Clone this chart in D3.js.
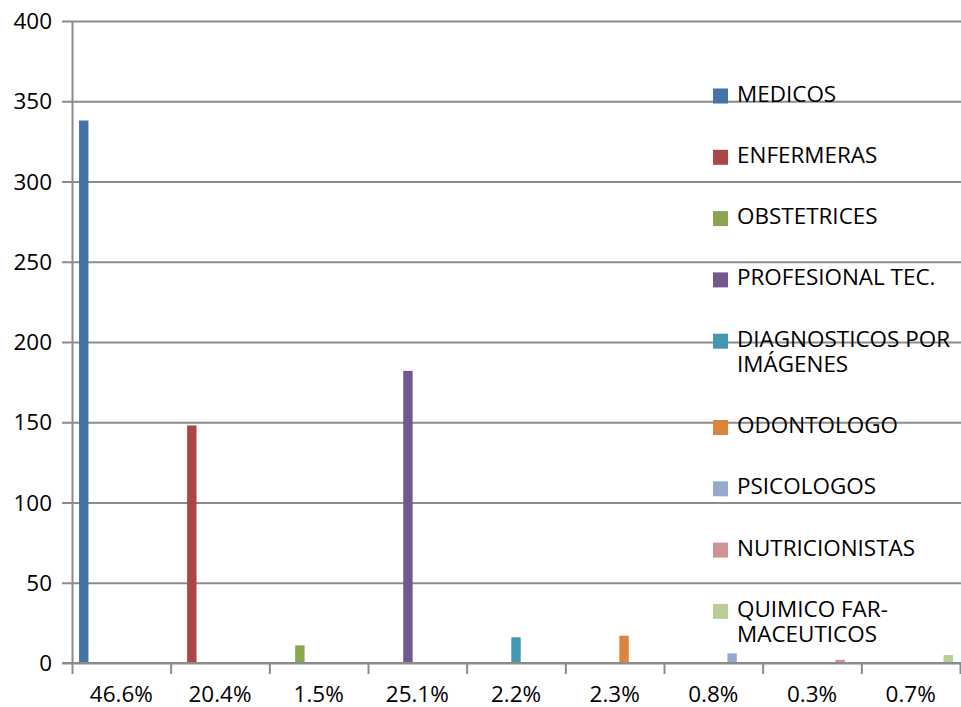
<!DOCTYPE html>
<html><head><meta charset="utf-8">
<script src="https://cdn.jsdelivr.net/npm/d3@7"></script>
<style>body{margin:0;background:#fff}svg{display:block}text{font-family:"Open Sans",sans-serif;fill:#000}</style>
</head><body><svg id="c" width="961" height="707"></svg>
<script>
const categories = ["46.6%","20.4%","1.5%","25.1%","2.2%","2.3%","0.8%","0.3%","0.7%"];
const seriesNames = ["MEDICOS","ENFERMERAS","OBSTETRICES","PROFESIONAL TEC.","DIAGNOSTICOS POR IMÁGENES","ODONTOLOGO","PSICOLOGOS","NUTRICIONISTAS","QUIMICO FARMACEUTICOS"];
const legendLines = [["MEDICOS"],["ENFERMERAS"],["OBSTETRICES"],["PROFESIONAL TEC."],["DIAGNOSTICOS POR","IMÁGENES"],["ODONTOLOGO"],["PSICOLOGOS"],["NUTRICIONISTAS"],["QUIMICO FAR-","MACEUTICOS"]];
const seriesValues = [338,148,11,182,16,17,6,2,5];
const seriesColors = ["#4572A7","#AA4643","#89A54E","#71588F","#4198AF","#DB843D","#93A9CF","#D19392","#B9CD96"];
const yTickValues = [0,50,100,150,200,250,300,350,400];

(function(){
const W=961, mLeft=72, mRight=960, mTop=21, mBottom=663;
const sx=1.07, fs=21, gridColor="#8c8c8c";
const svg=d3.select("#c");
const y=d3.scaleLinear().domain([0,400]).range([mBottom,mTop]);
const x0=d3.scaleBand().domain(categories).range([mLeft,mRight]).padding(0);
const x1=d3.scaleBand().domain(seriesNames).range([0,x0.bandwidth()]).paddingInner(0).paddingOuter(0.75);

// gridlines
svg.append("g").attr("transform","translate(62,0)")
  .call(d3.axisLeft(y).tickValues(yTickValues).tickSize(-(W-62)).tickFormat(""))
  .call(g=>g.select(".domain").remove())
  .call(g=>g.selectAll("line").attr("stroke",gridColor).attr("stroke-width",2));

// bars
svg.append("g").selectAll("rect").data(seriesNames).join("rect")
  .attr("x",(d,i)=>x0(categories[i])+x1(d))
  .attr("width",x1.bandwidth())
  .attr("y",(d,i)=>y(seriesValues[i]))
  .attr("height",(d,i)=>mBottom-y(seriesValues[i]))
  .attr("fill",(d,i)=>seriesColors[i]);

// y axis labels + domain
svg.append("g").attr("transform",`translate(${mLeft},0)`)
  .call(d3.axisLeft(y).tickValues(yTickValues).tickSize(0).tickSizeOuter(0))
  .call(g=>g.select(".domain").attr("stroke",gridColor).attr("stroke-width",2))
  .call(g=>g.selectAll("text").attr("x",0).attr("dy","0.36em")
     .attr("transform",`translate(-20,0) scale(${sx},1)`)
     .attr("font-size",fs).attr("text-anchor","end").attr("font-family",null));

// x boundary ticks
const xb=d3.scaleLinear().domain([0,categories.length]).range([mLeft,mRight]);
svg.append("g").attr("transform",`translate(0,${mBottom})`)
  .call(d3.axisBottom(xb).tickValues(d3.range(categories.length+1)).tickSize(11).tickSizeOuter(0).tickFormat(""))
  .call(g=>g.select(".domain").remove())
  .call(g=>g.selectAll("line").attr("stroke",gridColor).attr("stroke-width",2));

// x axis line + labels
svg.append("g").attr("transform",`translate(0,${mBottom})`)
  .call(d3.axisBottom(x0).tickSize(0).tickSizeOuter(0))
  .call(g=>g.select(".domain").attr("stroke",gridColor).attr("stroke-width",2).attr("d",`M62,0H${W}`))
  .call(g=>g.selectAll("text").attr("y",0).attr("dy",0)
     .attr("transform",`translate(0,38.5) scale(${sx},1)`)
     .attr("font-size",fs).attr("font-family",null));

// legend
let extra=0;
legendLines.forEach((lines,i)=>{
  const c=94+61.3*i+25*extra;
  const g=svg.append("g");
  g.append("rect").attr("x",713).attr("y",c-5.5).attr("width",15).attr("height",15).attr("fill",seriesColors[i]);
  const t=g.append("text").attr("transform",`translate(737,${c+7.5}) scale(${sx},1)`).attr("font-size",fs);
  lines.forEach((s,j)=>{
    t.append("tspan").attr("x",0).attr("y",25*j).text(s);
  });
  extra+=lines.length-1;
});
})();
</script></body></html>
